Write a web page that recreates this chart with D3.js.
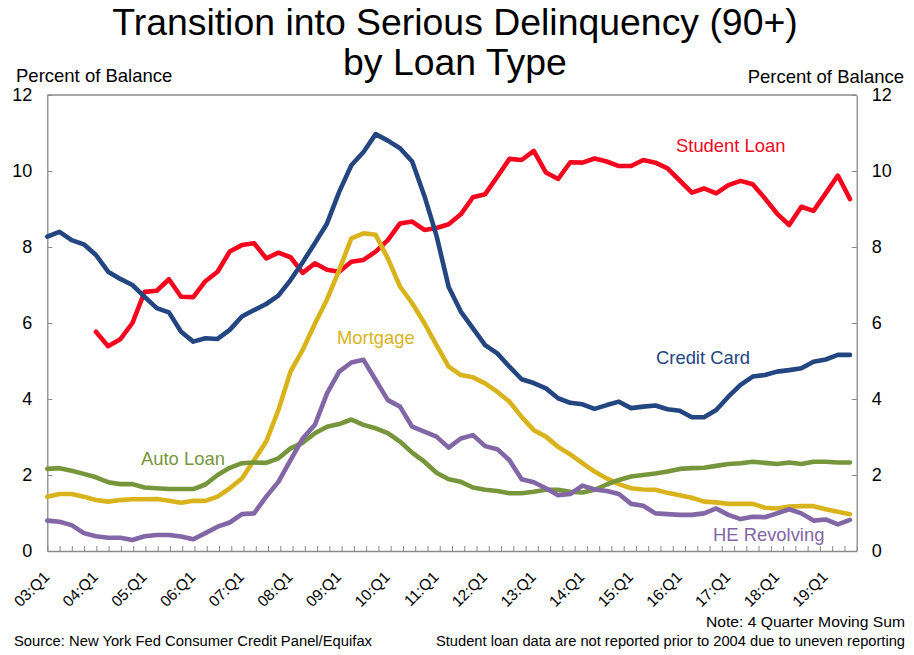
<!DOCTYPE html>
<html>
<head>
<meta charset="utf-8">
<script src="https://cdn.jsdelivr.net/npm/d3@7"></script>
<style>
  html, body { margin: 0; padding: 0; background: #fff; }
  svg { display: block; }
  text { font-family: "Liberation Sans", Arial, Helvetica, sans-serif; }
</style>
</head>
<body>
<div id="chart"></div>
<script>
// ---------------- data ----------------
const quarters = [
  "03:Q1","03:Q2","03:Q3","03:Q4","04:Q1","04:Q2","04:Q3","04:Q4",
  "05:Q1","05:Q2","05:Q3","05:Q4","06:Q1","06:Q2","06:Q3","06:Q4",
  "07:Q1","07:Q2","07:Q3","07:Q4","08:Q1","08:Q2","08:Q3","08:Q4",
  "09:Q1","09:Q2","09:Q3","09:Q4","10:Q1","10:Q2","10:Q3","10:Q4",
  "11:Q1","11:Q2","11:Q3","11:Q4","12:Q1","12:Q2","12:Q3","12:Q4",
  "13:Q1","13:Q2","13:Q3","13:Q4","14:Q1","14:Q2","14:Q3","14:Q4",
  "15:Q1","15:Q2","15:Q3","15:Q4","16:Q1","16:Q2","16:Q3","16:Q4",
  "17:Q1","17:Q2","17:Q3","17:Q4","18:Q1","18:Q2","18:Q3","18:Q4",
  "19:Q1","19:Q2","19:Q3"
];
const tickLabels = ["03:Q1","04:Q1","05:Q1","06:Q1","07:Q1","08:Q1","09:Q1","10:Q1",
  "11:Q1","12:Q1","13:Q1","14:Q1","15:Q1","16:Q1","17:Q1","18:Q1","19:Q1"];
const yTicks = [0, 2, 4, 6, 8, 10, 12];

const studentLoan = [null, null, null, null,
  5.77, 5.39, 5.57, 6.00, 6.82, 6.85, 7.15, 6.69, 6.68, 7.10, 7.35, 7.88,
  8.05, 8.10, 7.70, 7.85, 7.73, 7.32, 7.57, 7.40, 7.35, 7.61, 7.66, 7.88,
  8.18, 8.62, 8.67, 8.45, 8.50, 8.60, 8.86, 9.31, 9.39, 9.85, 10.32, 10.29,
  10.53, 9.96, 9.79, 10.23, 10.22, 10.33, 10.25, 10.13, 10.13, 10.29, 10.22, 10.07,
  9.75, 9.43, 9.54, 9.41, 9.63, 9.74, 9.65, 9.28, 8.88, 8.58, 9.06, 8.95,
  9.41, 9.88, 9.26];
const creditCard = [8.27, 8.40, 8.18, 8.07, 7.79, 7.35, 7.16, 7.00, 6.69, 6.39,
  6.28, 5.77, 5.51, 5.60, 5.58, 5.82, 6.17, 6.34, 6.50, 6.72,
  7.13, 7.60, 8.10, 8.62, 9.45, 10.15, 10.50, 10.97, 10.80, 10.60,
  10.25, 9.35, 8.30, 6.95, 6.30, 5.86, 5.42, 5.20, 4.85, 4.52,
  4.42, 4.28, 4.02, 3.90, 3.86, 3.74, 3.84, 3.93, 3.76, 3.80,
  3.83, 3.73, 3.69, 3.52, 3.52, 3.71, 4.06, 4.37, 4.59, 4.63,
  4.72, 4.76, 4.81, 4.98, 5.04, 5.16, 5.16];
const mortgage = [1.43, 1.50, 1.50, 1.43, 1.34, 1.30, 1.34, 1.36, 1.36, 1.37,
  1.32, 1.27, 1.32, 1.32, 1.43, 1.65, 1.91, 2.39, 2.88, 3.71,
  4.72, 5.29, 5.98, 6.62, 7.39, 8.23, 8.36, 8.32, 7.70, 6.96,
  6.52, 6.00, 5.42, 4.85, 4.63, 4.57, 4.41, 4.19, 3.93, 3.53,
  3.18, 3.01, 2.74, 2.54, 2.31, 2.09, 1.91, 1.76, 1.65, 1.62,
  1.61, 1.53, 1.47, 1.40, 1.30, 1.28, 1.24, 1.24, 1.24, 1.14,
  1.12, 1.17, 1.18, 1.18, 1.10, 1.03, 0.97];
const autoLoan = [2.16, 2.18, 2.11, 2.03, 1.94, 1.81, 1.76, 1.76, 1.67, 1.65,
  1.63, 1.63, 1.63, 1.75, 2.00, 2.19, 2.31, 2.33, 2.32, 2.44,
  2.70, 2.85, 3.10, 3.27, 3.34, 3.46, 3.32, 3.23, 3.10, 2.88,
  2.59, 2.35, 2.06, 1.89, 1.82, 1.67, 1.61, 1.58, 1.52, 1.52,
  1.56, 1.61, 1.61, 1.56, 1.54, 1.61, 1.75, 1.87, 1.96, 2.00,
  2.04, 2.09, 2.16, 2.18, 2.19, 2.24, 2.29, 2.31, 2.35, 2.32,
  2.29, 2.33, 2.29, 2.35, 2.35, 2.33, 2.33];
const heRevolving = [0.80, 0.77, 0.68, 0.47, 0.39, 0.35, 0.35, 0.29, 0.39, 0.42,
  0.42, 0.38, 0.31, 0.47, 0.64, 0.75, 0.97, 0.99, 1.43, 1.82,
  2.39, 2.96, 3.32, 4.15, 4.72, 4.96, 5.03, 4.50, 3.97, 3.80,
  3.27, 3.14, 3.01, 2.72, 2.96, 3.05, 2.76, 2.68, 2.39, 1.89,
  1.81, 1.65, 1.47, 1.50, 1.72, 1.62, 1.58, 1.50, 1.24, 1.19,
  0.99, 0.97, 0.95, 0.95, 0.99, 1.12, 0.95, 0.84, 0.90, 0.89,
  0.99, 1.10, 0.99, 0.80, 0.83, 0.70, 0.82];

const seriesNames = ["Student Loan", "Credit Card", "Mortgage", "Auto Loan", "HE Revolving"];
const seriesValues = [studentLoan, creditCard, mortgage, autoLoan, heRevolving];
const seriesColors = ["#f5061e", "#234680", "#d9b31c", "#77963b", "#8266a6"];

// ---------------- layout ----------------
const W = 914, H = 655;
const L = 47.3, R = 856.7, T = 95, B = 551;

const svg = d3.select("#chart").append("svg").attr("width", W).attr("height", H);

const x = d3.scaleLinear().domain([0, quarters.length - 1]).range([L, 850]);
const xTick = d3.scaleLinear().domain([0, 66]).range([L, R]);
const y = d3.scaleLinear().domain([0, 12]).range([B, T]);

const axisColor = "#8a8a8a";

// frame (top border)
svg.append("line").attr("x1", L).attr("x2", R).attr("y1", T).attr("y2", T)
  .attr("stroke", axisColor).attr("stroke-width", 1.3);

// left axis
const gl = svg.append("g").attr("transform", `translate(${L},0)`)
  .call(d3.axisLeft(y).tickValues(yTicks).tickSizeInner(-5).tickSizeOuter(0).tickPadding(15));
// right axis
const gr = svg.append("g").attr("transform", `translate(${R},0)`)
  .call(d3.axisRight(y).tickValues(yTicks).tickSizeInner(-5).tickSizeOuter(0).tickPadding(15));
// bottom axis (quarter ticks)
const gb = svg.append("g").attr("transform", `translate(0,${B})`)
  .call(d3.axisBottom(xTick).tickValues(d3.range(0, 67)).tickSizeInner(-5).tickSizeOuter(0).tickFormat(""));

[gl, gr, gb].forEach(g => {
  g.select(".domain").attr("stroke", axisColor).attr("stroke-width", 1.3);
  g.selectAll(".tick line").attr("stroke", axisColor).attr("stroke-width", 1);
  g.selectAll(".tick text").attr("fill", "#000").style("font-size", "18px")
    .style("font-family", '"Liberation Sans", Arial, sans-serif');
});

// x category labels (rotated)
svg.append("g").selectAll("text").data(tickLabels).join("text")
  .attr("transform", d => `translate(${x(quarters.indexOf(d)) + 3},${B + 27}) rotate(-45)`)
  .attr("text-anchor", "end")
  .style("font-size", "15.5px")
  .attr("fill", "#000")
  .text(d => d);

// lines
const line = d3.line()
  .defined(d => d != null)
  .x((d, i) => x(i))
  .y(d => y(d));

svg.append("g").selectAll("path").data(seriesValues).join("path")
  .attr("d", d => line(d))
  .attr("fill", "none")
  .attr("stroke", (d, i) => seriesColors[i])
  .attr("stroke-width", 4.6)
  .attr("stroke-linejoin", "round")
  .attr("stroke-linecap", "round");

// series labels
const labelPos = [
  {x: 676, y: 152},
  {x: 656, y: 364},
  {x: 337, y: 344},
  {x: 141, y: 465},
  {x: 713, y: 541}
];
svg.append("g").selectAll("text").data(seriesNames).join("text")
  .attr("x", (d, i) => labelPos[i].x)
  .attr("y", (d, i) => labelPos[i].y)
  .attr("fill", (d, i) => seriesColors[i])
  .style("font-size", "18.4px")
  .text(d => d);

// titles
svg.append("text").attr("x", 455).attr("y", 35).attr("text-anchor", "middle")
  .style("font-size", "37.4px").text("Transition into Serious Delinquency (90+)");
svg.append("text").attr("x", 455).attr("y", 75).attr("text-anchor", "middle")
  .style("font-size", "37.4px").text("by Loan Type");

svg.append("text").attr("x", 16).attr("y", 82).style("font-size", "18.5px").text("Percent of Balance");
svg.append("text").attr("x", 904).attr("y", 83).attr("text-anchor", "end")
  .style("font-size", "18.5px").text("Percent of Balance");

// footnotes
svg.append("text").attr("x", 14).attr("y", 646).style("font-size", "14px")
  .attr("textLength", 358).attr("lengthAdjust", "spacingAndGlyphs")
  .text("Source: New York Fed Consumer Credit Panel/Equifax");
svg.append("text").attr("x", 905).attr("y", 627).attr("text-anchor", "end").style("font-size", "14px")
  .attr("textLength", 199).attr("lengthAdjust", "spacingAndGlyphs")
  .text("Note: 4 Quarter Moving Sum");
svg.append("text").attr("x", 905).attr("y", 646).attr("text-anchor", "end").style("font-size", "14px")
  .attr("textLength", 469).attr("lengthAdjust", "spacingAndGlyphs")
  .text("Student loan data are not reported prior to 2004 due to uneven reporting");
</script>
</body>
</html>
